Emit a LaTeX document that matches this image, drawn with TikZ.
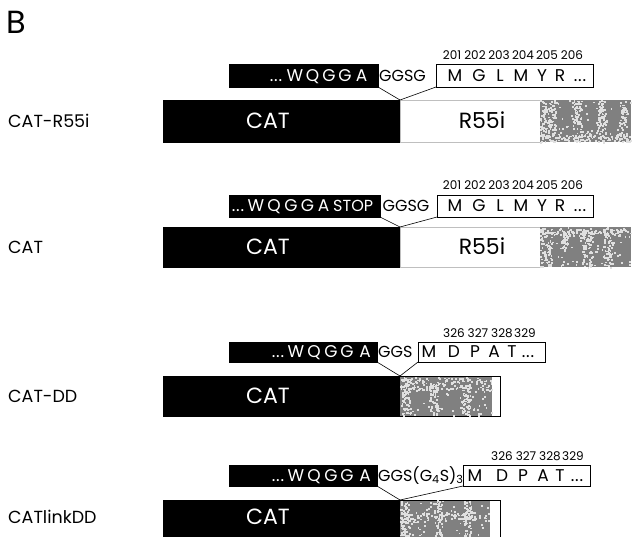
\documentclass[tikz,border=0pt]{standalone}
\usepackage{fontspec}
\setmainfont{Poppins}
\newcommand\elp{.\kern0.8pt.\kern0.8pt.}
\newcommand\myspeck[5]{%
  \foreach \k in {1,...,#5}{%
    \fill[black!12] ({#1+rnd*(#3-#1)},{#2+rnd*(#4-#2)}) rectangle ++(1.8,1.8);}}
\begin{document}
\begin{tikzpicture}[x=1pt,y=-1pt,
  blk/.style={fill=black,draw=black,line width=0.4pt,inner sep=0pt,outer sep=0pt,anchor=north west},
  wht/.style={fill=white,draw=black,line width=0.6pt,inner sep=0pt,outer sep=0pt,anchor=north west},
  whtbar/.style={fill=white,draw=gray!50,line width=0.4pt,inner sep=0pt,outer sep=0pt,anchor=north west},
  gry/.style={fill=black!50,draw=none,inner sep=0pt,outer sep=0pt,anchor=north west},
  lab/.style={font=\fontsize{17.5}{18}\selectfont,anchor=west,inner sep=0pt,text height=12.2pt,text depth=0pt},
  seqw/.style={text=white,font=\fontsize{17}{17}\selectfont,inner sep=0pt,text height=11.9pt,text depth=0pt},
  seqk/.style={text=black,font=\fontsize{17}{17}\selectfont,inner sep=0pt,text height=11.9pt,text depth=0pt},
  num/.style={font=\fontsize{12}{12}\selectfont,inner sep=0pt,text height=8.4pt,text depth=0pt},
  big/.style={font=\fontsize{22}{22}\selectfont,inner sep=0pt,text height=15.4pt,text depth=0pt},
  conn/.style={draw=black,line width=0.6pt}]
\useasboundingbox (0,0) rectangle (636,537);
\pgfmathsetseed{11}
\node[font=\fontsize{32}{32}\selectfont,anchor=west,inner sep=0pt] (B) at (6,22) {B};

% ---------------- Row 1: CAT-R55i ----------------
\node[lab] (L1) at (8,121) {CAT-R55i};
\node[blk,minimum width=237,minimum height=42] (c1) at (163,100) {};
\node[whtbar,minimum width=140,minimum height=42] (w1) at (400,100) {};
\node[gry,minimum width=91,minimum height=42] (g1) at (540,100) {};
\myspeck{540}{100}{556}{142}{110}
\myspeck{572}{100}{582}{142}{70}
\myspeck{597}{100}{606}{142}{70}
\myspeck{619}{100}{627}{142}{55}
\myspeck{540}{133}{631}{141}{110}
\myspeck{540}{100}{631}{142}{60}
\node[big,text=white] (t1a) at (268,121) {CAT};
\node[big] (t1b) at (482,121) {R55i};
\node[blk,minimum width=149,minimum height=23] (s1) at (229,64) {};
\node[wht,minimum width=157,minimum height=23] (m1) at (436,64) {};
\foreach \t/\x [count=\i] in {{\elp}/276,W/295,Q/312.5,G/329,G/345,A/361.5}
  {\node[seqw] (s1l\i) at (\x,75.5) {\t};}
\node[seqk,anchor=west,font=\fontsize{16}{16}\selectfont,text height=11.2pt] (k1) at (379,75.5) {GGSG};
\foreach \t/\x [count=\i] in {M/455,G/479,L/500,M/521,Y/542,R/560,{\elp}/580}
  {\node[seqk] (m1l\i) at (\x,75.5) {\t};}
\foreach \t/\x [count=\i] in {201/452,202/475,203/499,204/523,205/547,206/572}
  {\node[num] (n1\i) at (\x,55) {\t};}
\coordinate (j1) at (400,100);
\draw[conn] (s1.south east) -- (j1);
\draw[conn] (m1.south west) -- (j1);

% ---------------- Row 2: CAT ----------------
\node[lab] (L2) at (8,247) {CAT};
\node[blk,minimum width=237,minimum height=40] (c2) at (163,227) {};
\node[whtbar,minimum width=140,minimum height=40] (w2) at (400,227) {};
\node[gry,minimum width=91,minimum height=40] (g2) at (540,227) {};
\myspeck{540}{227}{552}{267}{80}
\myspeck{560}{227}{568}{250}{45}
\myspeck{582}{227}{592}{267}{70}
\myspeck{603}{227}{612}{267}{70}
\myspeck{540}{228}{631}{236}{100}
\myspeck{540}{227}{631}{267}{60}
\node[big,text=white] (t2a) at (268,247) {CAT};
\node[big] (t2b) at (482,247) {R55i};
\node[blk,minimum width=151,minimum height=22] (s2) at (229,195) {};
\node[wht,minimum width=156,minimum height=22] (m2) at (437,195) {};
\foreach \t/\x [count=\i] in {{\elp}/238,W/256,Q/274,G/291,G/307.5,A/323.5}
  {\node[seqw] (s2l\i) at (\x,206) {\t};}
\node[seqw,anchor=west,font=\fontsize{16}{16}\selectfont,text height=11.2pt] (s2stop) at (333,206) {STOP};
\node[seqk,anchor=west,font=\fontsize{16}{16}\selectfont,text height=11.2pt] (k2) at (382.5,206) {GGSG};
\foreach \t/\x [count=\i] in {M/455,G/479,L/500,M/521,Y/542,R/560,{\elp}/580}
  {\node[seqk] (m2l\i) at (\x,206) {\t};}
\foreach \t/\x [count=\i] in {201/452,202/475,203/499,204/523,205/547,206/572}
  {\node[num] (n2\i) at (\x,185) {\t};}
\coordinate (j2) at (400,227);
\draw[conn] (s2.south east) -- (j2);
\draw[conn] (m2.south west) -- (j2);

% ---------------- Row 3: CAT-DD ----------------
\node[lab] (L3) at (8,396) {CAT-DD};
\node[blk,minimum width=237,minimum height=40] (c3) at (163,376) {};
\node[wht,minimum width=100,minimum height=40,line width=0.5pt] (w3) at (400,376) {};
\node[gry,minimum width=92,minimum height=39] (g3) at (400,376.5) {};
\myspeck{400}{377}{492}{390}{140}
\myspeck{402}{377}{410}{416}{70}
\myspeck{429}{385}{438}{416}{60}
\myspeck{461}{385}{470}{416}{60}
\myspeck{400}{377}{492}{416}{60}
\node[big,text=white] (t3a) at (268,396) {CAT};
\node[blk,minimum width=148,minimum height=20] (s3) at (229,342) {};
\node[wht,minimum width=127,minimum height=20] (m3) at (418,342) {};
\foreach \t/\x [count=\i] in {{\elp}/278,W/296,Q/314,G/331,G/347,A/365}
  {\node[seqw] (s3l\i) at (\x,352) {\t};}
\node[seqk,anchor=west,font=\fontsize{16}{16}\selectfont,text height=11.2pt] (k3) at (378,352) {GGS};
\foreach \t/\x [count=\i] in {M/429,D/454,P/475,A/494,T/512,{\elp}/528}
  {\node[seqk] (m3l\i) at (\x,352) {\t};}
\foreach \t/\x [count=\i] in {326/454,327/478,328/502,329/525}
  {\node[num] (n3\i) at (\x,333) {\t};}
\coordinate (j3) at (400,376);
\draw[conn] (s3.south east) -- (j3);
\draw[conn] (m3.south west) -- (j3);

% ---------------- Row 4: CATlinkDD ----------------
\node[lab] (L4) at (8,517) {CATlinkDD};
\node[blk,minimum width=237,minimum height=40] (c4) at (163,500) {};
\node[wht,minimum width=100,minimum height=40,line width=0.5pt] (w4) at (400,500) {};
\node[gry,minimum width=90,minimum height=39] (g4) at (400,500.5) {};
\myspeck{400}{500}{409}{540}{70}
\myspeck{434}{500}{442}{540}{60}
\myspeck{464}{500}{471}{540}{60}
\myspeck{400}{512}{490}{521}{100}
\myspeck{400}{500}{490}{537}{50}
\node[big,text=white] (t4a) at (268,517) {CAT};
\node[blk,minimum width=148,minimum height=21] (s4) at (229,465) {};
\node[wht,minimum width=127,minimum height=21] (m4) at (463,465) {};
\foreach \t/\x [count=\i] in {{\elp}/278,W/296,Q/314,G/331,G/347,A/365}
  {\node[seqw] (s4l\i) at (\x,475.5) {\t};}
\node[seqk,anchor=west,font=\fontsize{16}{16}\selectfont,text height=11.2pt] (k4) at (378,475.5) {GGS(G\textsubscript{4}S)\textsubscript{3}};
\foreach \t/\x [count=\i] in {M/475,D/502,P/523,A/543,T/560,{\elp}/577}
  {\node[seqk] (m4l\i) at (\x,475.5) {\t};}
\foreach \t/\x [count=\i] in {326/502,327/526,328/550,329/573}
  {\node[num] (n4\i) at (\x,456) {\t};}
\coordinate (j4) at (400,500);
\draw[conn] (s4.south east) -- (j4);
\draw[conn] (m4.south west) -- (j4);
\end{tikzpicture}
\end{document}
